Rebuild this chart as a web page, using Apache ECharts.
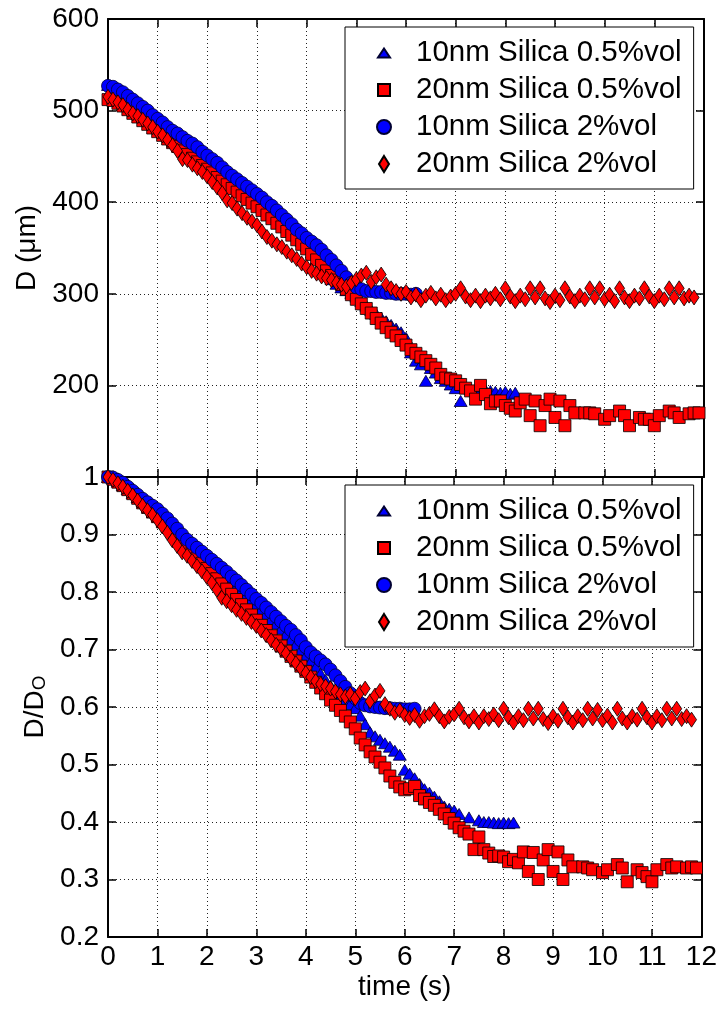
<!DOCTYPE html>
<html><head><meta charset="utf-8">
<script src="https://cdn.jsdelivr.net/npm/echarts@6/dist/echarts.min.js"></script>
<style>html,body{margin:0;padding:0;background:#fff}#c{width:720px;height:1013px}</style>
</head><body><div id="c"></div>
<script>
const SERIES_NAMES = ['10nm Silica 0.5%vol','20nm Silica 0.5%vol','10nm Silica 2%vol','20nm Silica 2%vol'];

// time values (s)
const T_TRI = [0,0.1,0.2,0.3,0.4,0.5,0.6,0.7,0.8,0.9,1.0,1.1,1.2,1.3,1.4,1.5,1.6,1.7,1.8,1.9,2.0,2.1,2.2,2.3,2.4,2.5,2.6,2.7,2.8,2.9,3.0,3.1,3.2,3.3,3.4,3.5,3.6,3.7,3.8,3.9,4.0,4.1,4.2,4.3,4.4,4.5,4.6,4.7,4.8,4.9,5.0,5.1,5.2,5.3,5.4,5.5,5.6,5.7,5.8,5.9,6.0,6.1,6.2,6.3,6.4,6.5,6.6,6.7,6.8,6.9,7.0,7.1,7.3,7.5,7.6,7.7,7.8,7.9,8.0,8.1,8.2];
const T_SQ = [0,0.1,0.2,0.3,0.4,0.5,0.6,0.7,0.8,0.9,1.0,1.1,1.2,1.3,1.4,1.5,1.6,1.7,1.8,1.9,2.0,2.1,2.2,2.3,2.4,2.5,2.6,2.7,2.8,2.9,3.0,3.1,3.2,3.3,3.4,3.5,3.6,3.7,3.8,3.9,4.0,4.1,4.2,4.3,4.4,4.5,4.6,4.7,4.8,4.9,5.0,5.1,5.2,5.3,5.4,5.5,5.6,5.7,5.8,5.9,6.0,6.1,6.2,6.3,6.4,6.5,6.6,6.7,6.8,6.9,7.0,7.1,7.2,7.3,7.4,7.5,7.6,7.7,7.8,7.9,8.0,8.1,8.2,8.3,8.4,8.5,8.6,8.7,8.8,8.9,9.0,9.1,9.2,9.3,9.4,9.6,9.7,9.8,10.0,10.1,10.3,10.4,10.5,10.7,10.8,10.9,11.0,11.1,11.3,11.4,11.5,11.7,11.8,11.9];
const T_CIR = [0,0.1,0.2,0.3,0.4,0.5,0.6,0.7,0.8,0.9,1.0,1.1,1.2,1.3,1.4,1.5,1.6,1.7,1.8,1.9,2.0,2.1,2.2,2.3,2.4,2.5,2.6,2.7,2.8,2.9,3.0,3.1,3.2,3.3,3.4,3.5,3.6,3.7,3.8,3.9,4.0,4.1,4.2,4.3,4.4,4.5,4.6,4.7,4.8,4.9,5.0,5.1,5.2,5.3,5.4,5.5,5.6,5.7,5.8,5.9,6.0,6.1,6.2];
const T_DIA = [0,0.1,0.2,0.3,0.4,0.5,0.6,0.7,0.8,0.9,1.0,1.1,1.2,1.3,1.4,1.5,1.6,1.7,1.8,1.9,2.0,2.1,2.2,2.3,2.4,2.5,2.6,2.7,2.8,2.9,3.0,3.1,3.2,3.3,3.4,3.5,3.6,3.7,3.8,3.9,4.0,4.1,4.2,4.3,4.4,4.5,4.6,4.7,4.8,4.9,5.0,5.1,5.2,5.3,5.4,5.5,5.6,5.7,5.8,5.9,6.0,6.1,6.2,6.3,6.4,6.5,6.6,6.7,6.8,6.9,7.0,7.1,7.2,7.3,7.4,7.5,7.6,7.7,7.8,7.9,8.0,8.1,8.2,8.3,8.4,8.5,8.6,8.7,8.8,8.9,9.0,9.1,9.2,9.3,9.4,9.5,9.6,9.7,9.8,9.9,10.0,10.1,10.2,10.3,10.4,10.5,10.6,10.7,10.8,10.9,11.0,11.1,11.2,11.3,11.4,11.5,11.6,11.7,11.8];

// Top panel: D (um)
const D_TRI = [528,525,522,518,514,510,505,501,497,492,488,483,479,475,471,467,463,459,455,451,446,442,438,433,429,424,420,416,412,407,403,399,394,389,384,380,375,370,364,358,352,345,338,330,322,316,311,307,304,301,297,292,287,282,278,274,270,266,262,258,252,236,227,223,205,219,214,208,205,201,197,183,196,197,195,194,193,192,193,191,192];
const D_SQ = [512,511,508,505,501,497,493,489,485,481,477,473,469,465,461,456,452,448,444,440,436,432,427,423,419,415,411,407,403,399,395,391,386,382,377,373,368,364,359,354,349,343,337,331,325,320,315,310,305,299,294,289,284,279,273,268,263,258,254,249,244,239,235,231,227,223,219,212,208,207,205,201,197,194,185,200,190,180,183,183,178,175,172,181,185,167,183,156,178,185,165,183,156,178,170,170,170,169,163,167,172,167,156,165,163,163,156,167,172,170,165,169,170,170];
const D_CIR = [527,526,523,520,516,512,508,504,500,495,491,487,482,478,475,471,467,464,460,455,451,447,443,438,433,429,425,421,417,413,409,405,400,396,391,386,381,376,370,366,361,357,353,348,342,337,331,325,318,312,307,305,303,303,302,302,301,301,300,300,300,299,300];
const D_DIA = [515,512,509,506,501,497,494,490,486,482,477,473,468,462,456,447,446,441,437,433,428,422,416,410,402,399,393,388,383,379,375,368,362,358,354,351,346,342,338,333,329,325,322,319,317,315,312,310,308,312,316,320,323,313,318,321,310,306,303,300,302,296,299,293,298,301,295,299,293,297,300,306,297,293,298,292,298,295,300,294,306,297,292,298,294,306,296,306,295,291,298,293,306,297,292,298,294,306,296,306,294,299,292,306,296,292,298,295,306,297,292,298,294,306,296,306,295,298,296];

// Bottom panel: D/D0
const N_TRI = [1.000,0.997,0.992,0.986,0.979,0.972,0.965,0.958,0.951,0.944,0.937,0.929,0.921,0.913,0.905,0.896,0.888,0.880,0.872,0.865,0.857,0.849,0.842,0.834,0.826,0.818,0.810,0.802,0.794,0.786,0.778,0.770,0.762,0.753,0.745,0.736,0.727,0.718,0.709,0.699,0.689,0.679,0.669,0.658,0.647,0.637,0.627,0.618,0.611,0.605,0.598,0.585,0.570,0.556,0.549,0.543,0.537,0.531,0.524,0.517,0.491,0.484,0.476,0.466,0.457,0.451,0.444,0.436,0.427,0.423,0.420,0.414,0.408,0.403,0.400,0.400,0.399,0.398,0.399,0.398,0.399];
const N_SQ = [1.000,0.996,0.991,0.985,0.978,0.971,0.963,0.955,0.947,0.939,0.931,0.922,0.913,0.904,0.895,0.886,0.877,0.868,0.859,0.850,0.841,0.832,0.823,0.814,0.805,0.796,0.787,0.778,0.769,0.760,0.751,0.742,0.733,0.724,0.715,0.706,0.697,0.688,0.680,0.671,0.662,0.652,0.643,0.633,0.623,0.612,0.603,0.594,0.584,0.574,0.562,0.546,0.534,0.522,0.513,0.504,0.494,0.480,0.469,0.461,0.456,0.458,0.462,0.446,0.440,0.434,0.429,0.422,0.414,0.406,0.398,0.390,0.384,0.379,0.352,0.374,0.352,0.346,0.340,0.341,0.339,0.331,0.335,0.329,0.348,0.314,0.347,0.300,0.334,0.352,0.314,0.348,0.300,0.334,0.322,0.322,0.320,0.317,0.312,0.317,0.326,0.320,0.296,0.317,0.312,0.305,0.296,0.317,0.326,0.320,0.322,0.320,0.322,0.320];
const N_CIR = [1.000,0.999,0.995,0.990,0.983,0.976,0.969,0.962,0.956,0.950,0.944,0.936,0.928,0.919,0.910,0.900,0.891,0.884,0.877,0.870,0.863,0.856,0.849,0.842,0.835,0.827,0.820,0.812,0.804,0.796,0.788,0.781,0.773,0.765,0.757,0.749,0.741,0.734,0.725,0.716,0.704,0.695,0.688,0.681,0.674,0.665,0.655,0.645,0.635,0.624,0.615,0.607,0.603,0.601,0.600,0.599,0.598,0.598,0.597,0.597,0.596,0.596,0.597];
const N_DIA = [1.000,0.995,0.989,0.983,0.976,0.968,0.959,0.950,0.942,0.934,0.925,0.914,0.903,0.890,0.880,0.869,0.863,0.854,0.845,0.836,0.826,0.816,0.804,0.790,0.784,0.777,0.769,0.762,0.755,0.748,0.741,0.733,0.725,0.716,0.708,0.701,0.693,0.684,0.676,0.667,0.659,0.652,0.645,0.640,0.636,0.632,0.627,0.622,0.618,0.622,0.615,0.626,0.632,0.610,0.620,0.628,0.605,0.597,0.590,0.594,0.586,0.581,0.586,0.576,0.584,0.588,0.596,0.584,0.575,0.583,0.587,0.597,0.582,0.575,0.584,0.573,0.584,0.579,0.587,0.577,0.597,0.582,0.573,0.584,0.577,0.597,0.580,0.597,0.579,0.572,0.584,0.576,0.597,0.582,0.573,0.584,0.577,0.597,0.580,0.595,0.577,0.585,0.573,0.597,0.580,0.573,0.584,0.578,0.597,0.582,0.573,0.584,0.577,0.597,0.580,0.597,0.579,0.584,0.578];

const FONT = "'Liberation Sans', Arial, Helvetica, sans-serif";
const BLUE = '#0000ff', RED = '#ff0000';

function pairs(t, v, label) {
  if (t.length !== v.length) throw new Error('length mismatch ' + label + ': ' + t.length + ' vs ' + v.length);
  return t.map((x, i) => [x, v[i]]);
}

const STYLES = [
  { symbol: 'triangle', symbolSize: [13, 11], color: BLUE, border: '#000033' },
  { symbol: 'rect', symbolSize: [12, 12], color: RED, border: '#000000' },
  { symbol: 'circle', symbolSize: 13, color: BLUE, border: '#000033' },
  { symbol: 'diamond', symbolSize: [10, 15], color: RED, border: '#000000' }
];
const ICONS = [
  'path://M0 0M18 18M9 4.5L15 13.5L3 13.5Z',
  'path://M0 0M18 18M3 3L15 3L15 15L3 15Z',
  'path://M0 0M18 18M2 9A7 7 0 1 1 16 9A7 7 0 1 1 2 9Z',
  'path://M0 0M18 18M9 1L14 9L9 17L4 9Z'
];

function makeSeries(gi, data) {
  return data.map((d, i) => ({
    type: 'scatter', name: SERIES_NAMES[i], xAxisIndex: gi * 2, yAxisIndex: gi * 2,
    symbol: STYLES[i].symbol, symbolSize: STYLES[i].symbolSize, data: d, clip: false,
    itemStyle: { color: STYLES[i].color, borderColor: STYLES[i].border, borderWidth: 0.8, opacity: 1 },
    emphasis: { disabled: true }, z: 2 + i
  }));
}

const topData = [pairs(T_TRI, D_TRI, 'tri'), pairs(T_SQ, D_SQ, 'sq'), pairs(T_CIR, D_CIR, 'cir'), pairs(T_DIA, D_DIA, 'dia')];
const botData = [pairs(T_TRI, N_TRI, 'ntri'), pairs(T_SQ, N_SQ, 'nsq'), pairs(T_CIR, N_CIR, 'ncir'), pairs(T_DIA, N_DIA, 'ndia')];

const AXLINE = { show: true, onZero: false, lineStyle: { color: '#000', width: 2 } };
const TICK = { show: true, inside: true, length: 8, lineStyle: { color: '#000', width: 1.5 } };
const GRIDLINE = { show: true, lineStyle: { color: '#222', width: 1, type: [1, 3] } };
const LABEL = { color: '#000', fontSize: 28, fontFamily: FONT };

function xAxes(gi, showLabels) {
  return [
    { type: 'value', gridIndex: gi, position: 'bottom', min: 0, max: 12, interval: 1,
      axisLine: AXLINE, axisTick: TICK, splitLine: GRIDLINE,
      axisLabel: showLabels ? Object.assign({ margin: 6 }, LABEL) : { show: false },
      name: showLabels ? 'time (s)' : '', nameLocation: 'middle', nameGap: 36,
      nameTextStyle: LABEL },
    { type: 'value', gridIndex: gi, position: 'top', min: 0, max: 12, interval: 1,
      axisLine: AXLINE, axisTick: TICK, splitLine: { show: false }, axisLabel: { show: false } }
  ];
}

function legendAt(top) {
  return {
    orient: 'vertical', left: 345, top: top, padding: [11, 12, 10, 29], itemGap: 7,
    itemWidth: 54, itemHeight: 18, symbolKeepAspect: true, selectedMode: false,
    backgroundColor: '#fff', borderColor: '#000', borderWidth: 1,
    textStyle: { fontSize: 29.5, lineHeight: 28, color: '#000', fontFamily: FONT },
    data: SERIES_NAMES.map((n, i) => ({ name: n, icon: ICONS[i] })),
    z: 10
  };
}

const option = {
  animation: false,
  backgroundColor: '#fff',
  grid: [
    { left: 108, right: 16, top: 19, height: 458 },
    { left: 108, right: 16, top: 477, height: 460 }
  ],
  xAxis: [].concat(xAxes(0, false), xAxes(1, true)),
  yAxis: [
    { type: 'value', gridIndex: 0, position: 'left', min: 100, max: 600, interval: 100,
      axisLine: AXLINE, axisTick: TICK, splitLine: GRIDLINE,
      axisLabel: Object.assign({ margin: 9, formatter: v => (v === 100 ? '' : String(v)) }, LABEL),
      name: 'D (μm)', nameLocation: 'middle', nameGap: 51, nameTextStyle: LABEL },
    { type: 'value', gridIndex: 0, position: 'right', min: 100, max: 600, interval: 100,
      axisLine: AXLINE, axisTick: TICK, splitLine: { show: false }, axisLabel: { show: false } },
    { type: 'value', gridIndex: 1, position: 'left', min: 0.2, max: 1, interval: 0.1,
      axisLine: AXLINE, axisTick: TICK, splitLine: GRIDLINE,
      axisLabel: Object.assign({ margin: 9, formatter: v => String(Math.round(v * 10) / 10) }, LABEL),
      name: '{a|D/D}{b|O}', nameLocation: 'middle', nameGap: 57,
      nameTextStyle: { color: '#000', fontFamily: FONT, rich: {
        a: { fontSize: 28, lineHeight: 28, verticalAlign: 'top', fontFamily: FONT, color: '#000' },
        b: { fontSize: 19, lineHeight: 19, padding: [16, 0, 0, 0], verticalAlign: 'bottom', fontFamily: FONT, color: '#000' }
      } } },
    { type: 'value', gridIndex: 1, position: 'right', min: 0.2, max: 1, interval: 0.1,
      axisLine: AXLINE, axisTick: TICK, splitLine: { show: false }, axisLabel: { show: false } }
  ],
  legend: [legendAt(27), legendAt(485)],
  series: [].concat(makeSeries(0, topData), makeSeries(1, botData))
};

const chart = echarts.init(document.getElementById('c'), null, { renderer: 'canvas' });
chart.setOption(option);
</script>
</body></html>
